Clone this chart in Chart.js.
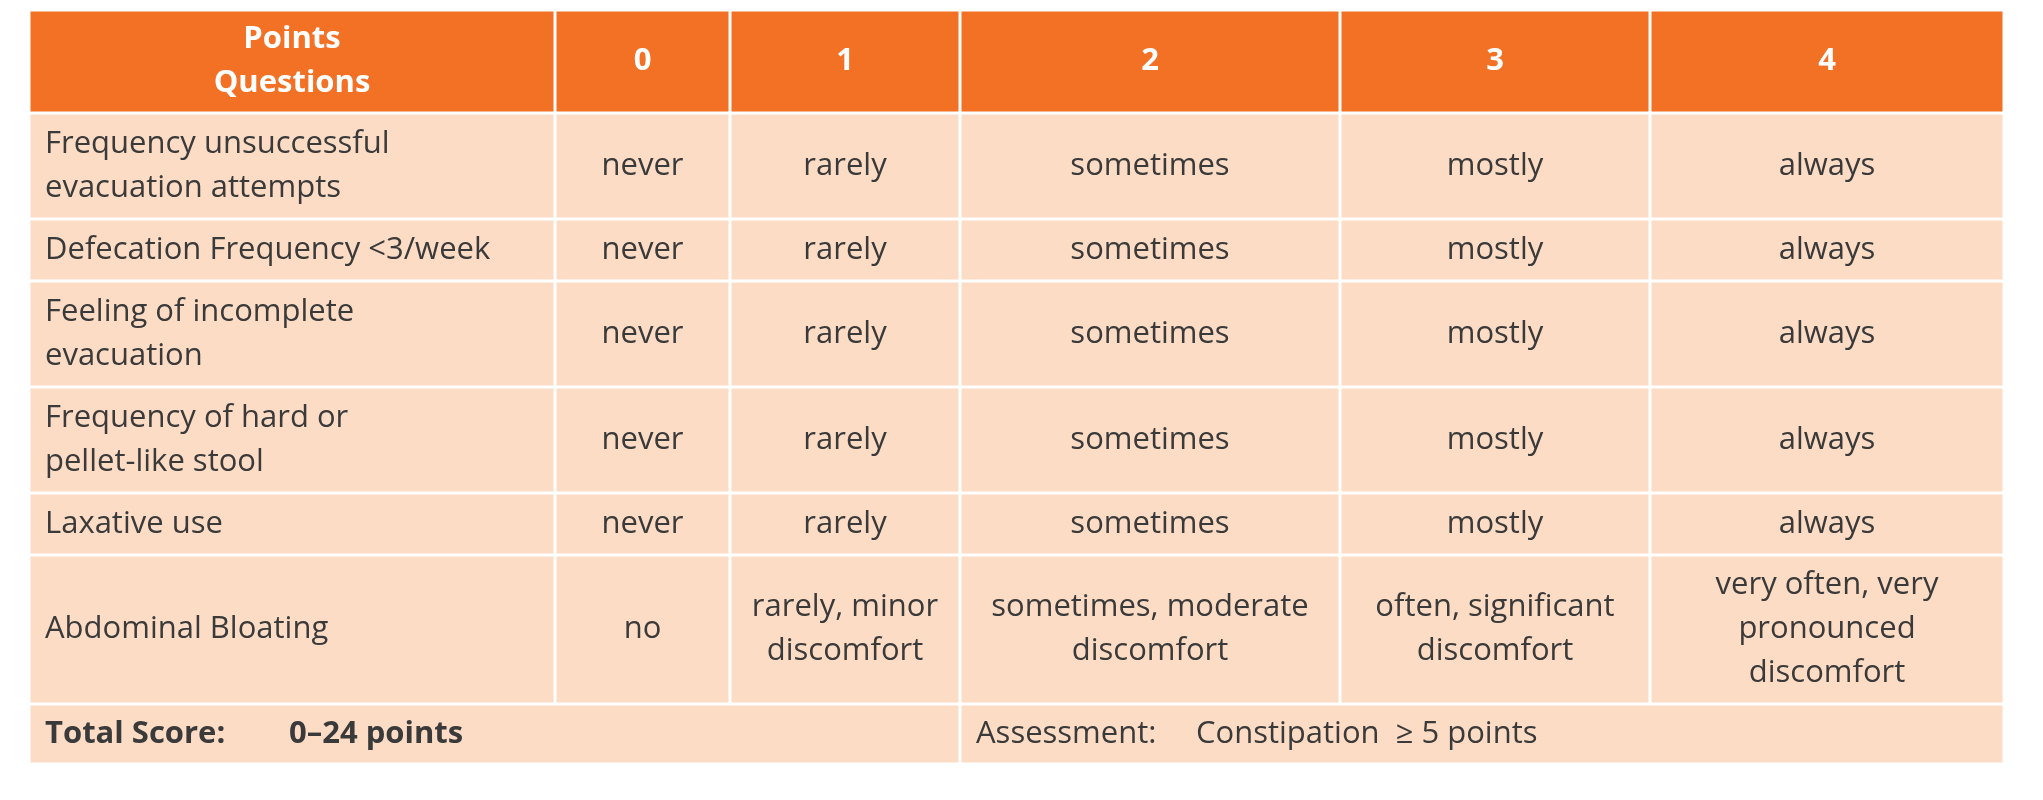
<!DOCTYPE html>
<html>
<head>
<meta charset="utf-8">
<script src="https://cdn.jsdelivr.net/npm/chart.js@4"></script>
<style>
  body { margin: 0; background: #fff; }
</style>
</head>
<body>
<canvas id="table" width="2043" height="800"></canvas>
<script>
// table content
const headers = ["Points\nQuestions", "0", "1", "2", "3", "4"];
const questions = [
  "Frequency unsuccessful\nevacuation attempts",
  "Defecation Frequency <3/week",
  "Feeling of incomplete\nevacuation",
  "Frequency of hard or\npellet-like stool",
  "Laxative use",
  "Abdominal Bloating",
];
const answers = [
  ["never", "rarely", "sometimes", "mostly", "always"],
  ["never", "rarely", "sometimes", "mostly", "always"],
  ["never", "rarely", "sometimes", "mostly", "always"],
  ["never", "rarely", "sometimes", "mostly", "always"],
  ["never", "rarely", "sometimes", "mostly", "always"],
  ["no", "rarely, minor\ndiscomfort", "sometimes, moderate\ndiscomfort", "often, significant\ndiscomfort", "very often, very\npronounced\ndiscomfort"],
];
const footerLeft = ["Total Score:", "0\u201324 points"];
const footerRight = ["Assessment:", "Constipation  \u2265 5 points"];

// layout (in table units, x across / y down)
const colEdges = [0, 526, 701, 931, 1311, 1621, 1975];
const rowEdges = [0, 103, 209, 271, 377, 483, 545, 694, 754];

const ORANGE = "#f37125";
const PEACH = "#fcdcc5";
const TEXT = "#3a3a3a";
const FONT = "'Open Sans', sans-serif";

function drawLines(ctx, text, x, y, lh) {
  const lines = text.split("\n");
  const y0 = y - (lines.length - 1) * lh / 2;
  lines.forEach((l, i) => ctx.fillText(l, x, y0 + i * lh));
}

const tablePlugin = {
  id: "tablePlugin",
  beforeDatasetsDraw(chart) {
    const { ctx, scales: { x, y } } = chart;
    const px = v => x.getPixelForValue(v);
    const py = v => y.getPixelForValue(v);
    const cell = (c0, c1, r0, r1, color) => {
      ctx.fillStyle = color;
      ctx.fillRect(px(c0) + 1.5, py(r0) + 1.5, px(c1) - px(c0) - 3, py(r1) - py(r0) - 3);
    };
    ctx.save();
    ctx.textBaseline = "middle";

    // header
    headers.forEach((h, c) => {
      cell(colEdges[c], colEdges[c + 1], rowEdges[0], rowEdges[1], ORANGE);
      ctx.fillStyle = "#fff";
      ctx.font = "bold 31px " + FONT;
      ctx.textAlign = "center";
      drawLines(ctx, h, (px(colEdges[c]) + px(colEdges[c + 1])) / 2, (py(rowEdges[0]) + py(rowEdges[1])) / 2, 44);
    });

    // body
    questions.forEach((q, r) => {
      const ym = (py(rowEdges[r + 1]) + py(rowEdges[r + 2])) / 2;
      for (let c = 0; c < headers.length; c++) {
        cell(colEdges[c], colEdges[c + 1], rowEdges[r + 1], rowEdges[r + 2], PEACH);
      }
      ctx.fillStyle = TEXT;
      ctx.font = "31px " + FONT;
      ctx.textAlign = "left";
      drawLines(ctx, q, px(colEdges[0]) + 16, ym, 44);
      ctx.textAlign = "center";
      answers[r].forEach((a, c) => {
        drawLines(ctx, a, (px(colEdges[c + 1]) + px(colEdges[c + 2])) / 2, ym, 44);
      });
    });

    // footer
    const r0 = rowEdges[7], r1 = rowEdges[8];
    const ym = (py(r0) + py(r1)) / 2;
    cell(colEdges[0], colEdges[3], r0, r1, PEACH);
    cell(colEdges[3], colEdges[6], r0, r1, PEACH);
    ctx.fillStyle = TEXT;
    ctx.textAlign = "left";
    ctx.font = "bold 31px " + FONT;
    ctx.fillText(footerLeft[0], px(0) + 16, ym);
    ctx.fillText(footerLeft[1], px(0) + 260, ym);
    ctx.font = "31px " + FONT;
    ctx.fillText(footerRight[0], px(colEdges[3]) + 16, ym);
    ctx.fillText(footerRight[1], px(colEdges[3]) + 236, ym);
    ctx.restore();
  },
};

new Chart(document.getElementById("table"), {
  type: "scatter",
  data: { datasets: [{ data: [] }] },
  options: {
    responsive: false,
    animation: false,
    layout: { padding: { left: 29, right: 39, top: 10, bottom: 36 } },
    plugins: { legend: { display: false }, tooltip: { enabled: false } },
    scales: {
      x: { type: "linear", min: 0, max: colEdges[colEdges.length - 1], display: false },
      y: { type: "linear", min: 0, max: rowEdges[rowEdges.length - 1], reverse: true, display: false },
    },
  },
  plugins: [tablePlugin],
});
</script>
</body>
</html>
